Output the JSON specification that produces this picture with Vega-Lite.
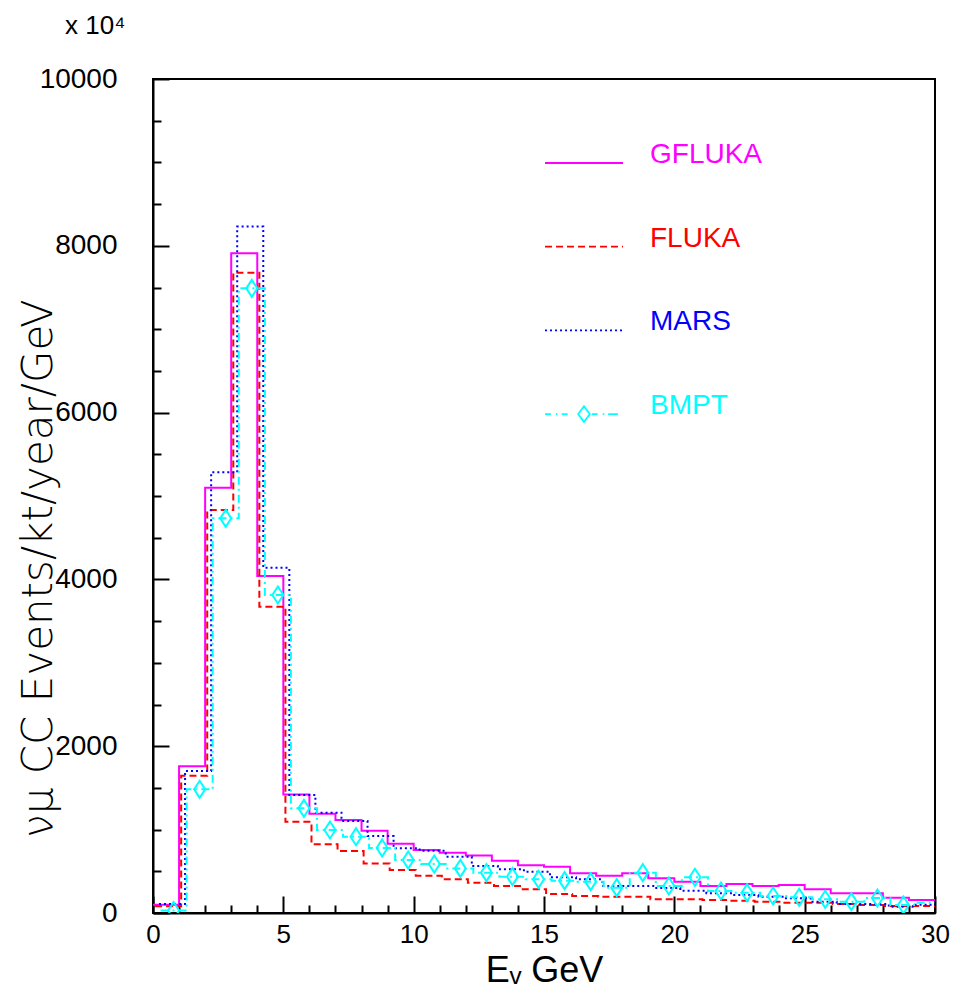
{
  "$schema": "https://vega.github.io/schema/vega-lite/v6.json",
  "width": 782,
  "height": 834,
  "autosize": {"type": "none"},
  "padding": {"left": 153, "top": 79, "right": 21, "bottom": 79},
  "background": "white",
  "config": {
    "view": {"stroke": "black", "strokeWidth": 2},
    "font": "Liberation Sans"
  },
  "title": {
    "text": "x 10⁴",
    "anchor": "start",
    "frame": "group",
    "dx": -88,
    "offset": 26,
    "fontSize": 26,
    "font": "Liberation Sans",
    "fontWeight": "normal",
    "color": "black"
  },
  "datasets": {
    "hist": [
      {"s": "GFLUKA", "lo": 0, "hi": 1, "v": 100},
      {"s": "GFLUKA", "lo": 1, "hi": 2, "v": 1760},
      {"s": "GFLUKA", "lo": 2, "hi": 3, "v": 5100},
      {"s": "GFLUKA", "lo": 3, "hi": 4, "v": 7910},
      {"s": "GFLUKA", "lo": 4, "hi": 5, "v": 4040},
      {"s": "GFLUKA", "lo": 5, "hi": 6, "v": 1420},
      {"s": "GFLUKA", "lo": 6, "hi": 7, "v": 1190},
      {"s": "GFLUKA", "lo": 7, "hi": 8, "v": 1115},
      {"s": "GFLUKA", "lo": 8, "hi": 9, "v": 985},
      {"s": "GFLUKA", "lo": 9, "hi": 10, "v": 830},
      {"s": "GFLUKA", "lo": 10, "hi": 11, "v": 755},
      {"s": "GFLUKA", "lo": 11, "hi": 12, "v": 723},
      {"s": "GFLUKA", "lo": 12, "hi": 13, "v": 690},
      {"s": "GFLUKA", "lo": 13, "hi": 14, "v": 627},
      {"s": "GFLUKA", "lo": 14, "hi": 15, "v": 572},
      {"s": "GFLUKA", "lo": 15, "hi": 16, "v": 555},
      {"s": "GFLUKA", "lo": 16, "hi": 17, "v": 476},
      {"s": "GFLUKA", "lo": 17, "hi": 18, "v": 448},
      {"s": "GFLUKA", "lo": 18, "hi": 19, "v": 476},
      {"s": "GFLUKA", "lo": 19, "hi": 20, "v": 416},
      {"s": "GFLUKA", "lo": 20, "hi": 21, "v": 376},
      {"s": "GFLUKA", "lo": 21, "hi": 22, "v": 324},
      {"s": "GFLUKA", "lo": 22, "hi": 23, "v": 348},
      {"s": "GFLUKA", "lo": 23, "hi": 24, "v": 324},
      {"s": "GFLUKA", "lo": 24, "hi": 25, "v": 336},
      {"s": "GFLUKA", "lo": 25, "hi": 26, "v": 284},
      {"s": "GFLUKA", "lo": 26, "hi": 27, "v": 236},
      {"s": "GFLUKA", "lo": 27, "hi": 28, "v": 236},
      {"s": "GFLUKA", "lo": 28, "hi": 29, "v": 184},
      {"s": "GFLUKA", "lo": 29, "hi": 30, "v": 156},
      {"s": "FLUKA", "lo": 0, "hi": 1, "v": 80},
      {"s": "FLUKA", "lo": 1, "hi": 2, "v": 1646},
      {"s": "FLUKA", "lo": 2, "hi": 3, "v": 4832},
      {"s": "FLUKA", "lo": 3, "hi": 4, "v": 7678},
      {"s": "FLUKA", "lo": 4, "hi": 5, "v": 3673},
      {"s": "FLUKA", "lo": 5, "hi": 6, "v": 1095},
      {"s": "FLUKA", "lo": 6, "hi": 7, "v": 823},
      {"s": "FLUKA", "lo": 7, "hi": 8, "v": 743},
      {"s": "FLUKA", "lo": 8, "hi": 9, "v": 595},
      {"s": "FLUKA", "lo": 9, "hi": 10, "v": 515},
      {"s": "FLUKA", "lo": 10, "hi": 11, "v": 448},
      {"s": "FLUKA", "lo": 11, "hi": 12, "v": 404},
      {"s": "FLUKA", "lo": 12, "hi": 13, "v": 364},
      {"s": "FLUKA", "lo": 13, "hi": 14, "v": 324},
      {"s": "FLUKA", "lo": 14, "hi": 15, "v": 284},
      {"s": "FLUKA", "lo": 15, "hi": 16, "v": 228},
      {"s": "FLUKA", "lo": 16, "hi": 17, "v": 204},
      {"s": "FLUKA", "lo": 17, "hi": 18, "v": 196},
      {"s": "FLUKA", "lo": 18, "hi": 19, "v": 196},
      {"s": "FLUKA", "lo": 19, "hi": 20, "v": 164},
      {"s": "FLUKA", "lo": 20, "hi": 21, "v": 164},
      {"s": "FLUKA", "lo": 21, "hi": 22, "v": 156},
      {"s": "FLUKA", "lo": 22, "hi": 23, "v": 148},
      {"s": "FLUKA", "lo": 23, "hi": 24, "v": 136},
      {"s": "FLUKA", "lo": 24, "hi": 25, "v": 124},
      {"s": "FLUKA", "lo": 25, "hi": 26, "v": 124},
      {"s": "FLUKA", "lo": 26, "hi": 27, "v": 108},
      {"s": "FLUKA", "lo": 27, "hi": 28, "v": 96},
      {"s": "FLUKA", "lo": 28, "hi": 29, "v": 84},
      {"s": "FLUKA", "lo": 29, "hi": 30, "v": 84},
      {"s": "MARS", "lo": 0, "hi": 1, "v": 108},
      {"s": "MARS", "lo": 1, "hi": 2, "v": 1703},
      {"s": "MARS", "lo": 2, "hi": 3, "v": 5284},
      {"s": "MARS", "lo": 3, "hi": 4, "v": 8230},
      {"s": "MARS", "lo": 4, "hi": 5, "v": 4140},
      {"s": "MARS", "lo": 5, "hi": 6, "v": 1415},
      {"s": "MARS", "lo": 6, "hi": 7, "v": 1203},
      {"s": "MARS", "lo": 7, "hi": 8, "v": 1103},
      {"s": "MARS", "lo": 8, "hi": 9, "v": 923},
      {"s": "MARS", "lo": 9, "hi": 10, "v": 775},
      {"s": "MARS", "lo": 10, "hi": 11, "v": 747},
      {"s": "MARS", "lo": 11, "hi": 12, "v": 675},
      {"s": "MARS", "lo": 12, "hi": 13, "v": 564},
      {"s": "MARS", "lo": 13, "hi": 14, "v": 524},
      {"s": "MARS", "lo": 14, "hi": 15, "v": 495},
      {"s": "MARS", "lo": 15, "hi": 16, "v": 428},
      {"s": "MARS", "lo": 16, "hi": 17, "v": 404},
      {"s": "MARS", "lo": 17, "hi": 18, "v": 324},
      {"s": "MARS", "lo": 18, "hi": 19, "v": 324},
      {"s": "MARS", "lo": 19, "hi": 20, "v": 300},
      {"s": "MARS", "lo": 20, "hi": 21, "v": 268},
      {"s": "MARS", "lo": 21, "hi": 22, "v": 236},
      {"s": "MARS", "lo": 22, "hi": 23, "v": 216},
      {"s": "MARS", "lo": 23, "hi": 24, "v": 196},
      {"s": "MARS", "lo": 24, "hi": 25, "v": 176},
      {"s": "MARS", "lo": 25, "hi": 26, "v": 136},
      {"s": "MARS", "lo": 26, "hi": 27, "v": 108},
      {"s": "MARS", "lo": 27, "hi": 28, "v": 108},
      {"s": "MARS", "lo": 28, "hi": 29, "v": 76},
      {"s": "MARS", "lo": 29, "hi": 30, "v": 100},
      {"s": "BMPT", "lo": 0, "hi": 1, "v": 30},
      {"s": "BMPT", "lo": 1, "hi": 2, "v": 1483},
      {"s": "BMPT", "lo": 2, "hi": 3, "v": 4732},
      {"s": "BMPT", "lo": 3, "hi": 4, "v": 7490},
      {"s": "BMPT", "lo": 4, "hi": 5, "v": 3813},
      {"s": "BMPT", "lo": 5, "hi": 6, "v": 1255},
      {"s": "BMPT", "lo": 6, "hi": 7, "v": 995},
      {"s": "BMPT", "lo": 7, "hi": 8, "v": 915},
      {"s": "BMPT", "lo": 8, "hi": 9, "v": 780},
      {"s": "BMPT", "lo": 9, "hi": 10, "v": 635},
      {"s": "BMPT", "lo": 10, "hi": 11, "v": 587},
      {"s": "BMPT", "lo": 11, "hi": 12, "v": 535},
      {"s": "BMPT", "lo": 12, "hi": 13, "v": 484},
      {"s": "BMPT", "lo": 13, "hi": 14, "v": 436},
      {"s": "BMPT", "lo": 14, "hi": 15, "v": 404},
      {"s": "BMPT", "lo": 15, "hi": 16, "v": 388},
      {"s": "BMPT", "lo": 16, "hi": 17, "v": 376},
      {"s": "BMPT", "lo": 17, "hi": 18, "v": 304},
      {"s": "BMPT", "lo": 18, "hi": 19, "v": 484},
      {"s": "BMPT", "lo": 19, "hi": 20, "v": 324},
      {"s": "BMPT", "lo": 20, "hi": 21, "v": 428},
      {"s": "BMPT", "lo": 21, "hi": 22, "v": 264},
      {"s": "BMPT", "lo": 22, "hi": 23, "v": 244},
      {"s": "BMPT", "lo": 23, "hi": 24, "v": 204},
      {"s": "BMPT", "lo": 24, "hi": 25, "v": 188},
      {"s": "BMPT", "lo": 25, "hi": 26, "v": 164},
      {"s": "BMPT", "lo": 26, "hi": 27, "v": 136},
      {"s": "BMPT", "lo": 27, "hi": 28, "v": 180},
      {"s": "BMPT", "lo": 28, "hi": 29, "v": 96},
      {"s": "BMPT", "lo": 29, "hi": 30, "v": 124}
    ]
  },
  "data": {"name": "hist"},
  "encoding": {
    "x": {
      "field": "xs",
      "type": "quantitative",
      "scale": {"domain": [0, 30], "nice": false, "zero": false},
      "axis": {
        "values": [0,1,2,3,4,5,6,7,8,9,10,11,12,13,14,15,16,17,18,19,20,21,22,23,24,25,26,27,28,29,30],
        "format": "d",
        "labelExpr": "datum.value % 5 === 0 ? datum.label : ''",
        "labelOverlap": false,
        "labelFlush": false,
        "labelBound": false,
        "grid": false,
        "domainColor": "black",
        "domainWidth": 2,
        "tickColor": "black",
        "tickWidth": 2,
        "tickSize": {"condition": {"test": "datum.value % 5 === 0", "value": -17}, "value": -8},
        "labelFont": "Liberation Sans",
        "labelFontSize": 26,
        "labelColor": "black",
        "labelPadding": 25,
        "title": "Eᵥ GeV",
        "titleFont": "Liberation Sans",
        "titleFontSize": 36,
        "titleFontWeight": "normal",
        "titleColor": "black",
        "titlePadding": -3
      }
    },
    "y": {
      "field": "v",
      "type": "quantitative",
      "scale": {"domain": [0, 10000], "nice": false, "zero": true},
      "axis": {
        "values": [0,500,1000,1500,2000,2500,3000,3500,4000,4500,5000,5500,6000,6500,7000,7500,8000,8500,9000,9500,10000],
        "format": "d",
        "labelExpr": "datum.value % 2000 === 0 ? datum.label : ''",
        "labelOverlap": false,
        "labelFlush": false,
        "labelBound": false,
        "grid": false,
        "domainColor": "black",
        "domainWidth": 2,
        "tickColor": "black",
        "tickWidth": 2,
        "tickSize": {"condition": {"test": "datum.value % 2000 === 0", "value": -16}, "value": -8},
        "labelFont": "Liberation Sans",
        "labelFontSize": 28,
        "labelColor": "black",
        "labelPadding": 52,
        "title": "νμ CC Events/kt/year/GeV",
        "titleFont": "DejaVu Sans",
        "titleFontSize": 42,
        "titleFontWeight": 200,
        "titleColor": "black",
        "titleAngle": 270,
        "titleAlign": "center",
        "titleBaseline": "middle",
        "titleX": -115,
        "titleY": 489
      }
    }
  },
  "layer": [
    {
      "transform": [
        {"filter": "datum.s === 'GFLUKA'"},
        {"fold": ["lo", "hi"], "as": ["edge", "xe"]},
        {"calculate": "datum.xe", "as": "xs"},
        {"calculate": "datum.lo * 2 + (datum.edge === 'hi' ? 1 : 0)", "as": "ord"}
      ],
      "mark": {"type": "line", "color": "#ff00ff", "strokeWidth": 2, "clip": true},
      "encoding": {"order": {"field": "ord", "type": "quantitative"}}
    },
    {
      "transform": [
        {"filter": "datum.s === 'FLUKA'"},
        {"fold": ["lo", "hi"], "as": ["edge", "xe"]},
        {"calculate": "datum.xe + 0.08", "as": "xs"},
        {"calculate": "datum.lo * 2 + (datum.edge === 'hi' ? 1 : 0)", "as": "ord"}
      ],
      "mark": {"type": "line", "color": "#ff0000", "strokeWidth": 2, "strokeDash": [7, 4], "clip": true},
      "encoding": {"order": {"field": "ord", "type": "quantitative"}}
    },
    {
      "transform": [
        {"filter": "datum.s === 'MARS'"},
        {"fold": ["lo", "hi"], "as": ["edge", "xe"]},
        {"calculate": "datum.xe + 0.23", "as": "xs"},
        {"calculate": "datum.lo * 2 + (datum.edge === 'hi' ? 1 : 0)", "as": "ord"}
      ],
      "mark": {"type": "line", "color": "#0000ff", "strokeWidth": 2, "strokeDash": [2, 3], "clip": true},
      "encoding": {"order": {"field": "ord", "type": "quantitative"}}
    },
    {
      "transform": [
        {"filter": "datum.s === 'BMPT'"},
        {"fold": ["lo", "hi"], "as": ["edge", "xe"]},
        {"calculate": "datum.xe + 0.29", "as": "xs"},
        {"calculate": "datum.lo * 2 + (datum.edge === 'hi' ? 1 : 0)", "as": "ord"}
      ],
      "mark": {"type": "line", "color": "#00ffff", "strokeWidth": 2, "strokeDash": [8, 4, 2, 4], "clip": true},
      "encoding": {"order": {"field": "ord", "type": "quantitative"}}
    },
    {
      "transform": [
        {"filter": "datum.s === 'BMPT' && datum.lo < 29"},
        {"calculate": "(datum.lo + datum.hi) / 2 + 0.29", "as": "xs"}
      ],
      "mark": {"type": "point", "shape": "M0,-1L0.65,0L0,1L-0.65,0Z", "size": 289, "filled": false, "color": "#00ffff", "strokeWidth": 2, "opacity": 1, "clip": true}
    },
    {
      "transform": [{"filter": "false"}],
      "mark": {"type": "point", "filled": false, "opacity": 1},
      "encoding": {
        "color": {
          "field": "s",
          "type": "nominal",
          "scale": {"domain": ["GFLUKA", "FLUKA", "MARS", "BMPT"], "range": ["#ff00ff", "#ff0000", "#0000ff", "#00ffff"]},
          "legend": {
            "title": null,
            "orient": "none",
            "legendX": 391,
            "legendY": 44,
            "direction": "vertical",
            "padding": 0,
            "symbolSize": 6084,
            "symbolStrokeWidth": 1.8,
            "symbolOpacity": 1,
            "labelFont": "Liberation Sans",
            "labelFontSize": 28,
            "labelOffset": 26,
            "labelBaseline": "alphabetic",
            "labelLimit": 400,
            "labelColor": {"expr": "scale('color', datum.value)"},
            "rowPadding": 37.7
          }
        },
        "shape": {
          "field": "s",
          "type": "nominal",
          "scale": {
            "domain": ["GFLUKA", "FLUKA", "MARS", "BMPT"],
            "range": ["M-1,0H1", "M-1,0H1", "M-1,0H1", "M-1,0H-0.85M-0.72,0H-0.68M-0.57,0H-0.42M0,-0.2L0.15,0L0,0.2L-0.15,0ZM0.2,0H0.35M0.48,0H0.52M0.62,0H0.87"]
          }
        },
        "strokeDash": {
          "field": "s",
          "type": "nominal",
          "scale": {"domain": ["GFLUKA", "FLUKA", "MARS", "BMPT"], "range": [[1, 0], [7, 4], [2, 3], [1, 0]]}
        }
      }
    },
    {
      "data": {"values": [{"label": "Near"}]},
      "mark": {"type": "text", "font": "Liberation Sans", "fontSize": 38, "align": "left", "baseline": "alphabetic", "color": "#111111"},
      "encoding": {
        "x": {"datum": 25.1, "type": "quantitative"},
        "y": {"datum": 9488, "type": "quantitative"},
        "text": {"field": "label", "type": "nominal"}
      }
    }
  ]
}
